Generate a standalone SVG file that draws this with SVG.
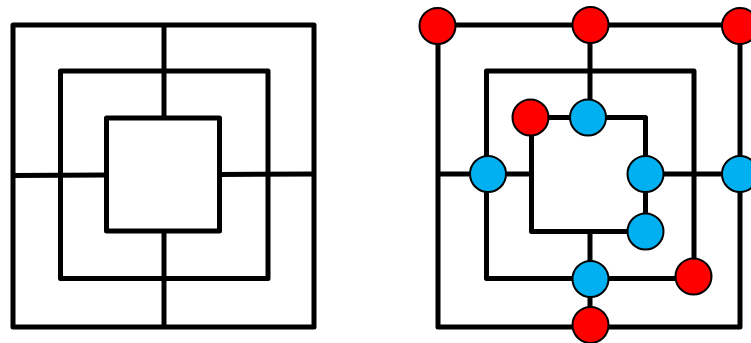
<svg xmlns="http://www.w3.org/2000/svg" width="751" height="343" viewBox="0 0 751 343">
<style>
.ln{fill:none;stroke:#000;stroke-width:5;stroke-linejoin:round;stroke-linecap:butt}
.red{fill:#FF0000;stroke:#000;stroke-width:2}
.blue{fill:#00B0F0;stroke:#000;stroke-width:2}
</style>
<rect width="751" height="343" fill="#fff"/>
<g id="empty-board">
<rect class="ln" x="13" y="25" width="301" height="302"/>
<rect class="ln" x="60.5" y="71" width="207.5" height="207.5"/>
<rect class="ln" x="106.5" y="118" width="113" height="113"/>
<line class="ln" x1="164" y1="25" x2="164" y2="118"/>
<line class="ln" x1="164" y1="231" x2="164" y2="327"/>
<line class="ln" x1="13" y1="175.5" x2="106.5" y2="175"/>
<line class="ln" x1="219.5" y1="174.5" x2="314" y2="174"/>
</g>
<g id="connectors">
<rect class="ln" x="438" y="25" width="302" height="302"/>
<rect class="ln" x="486.5" y="71" width="207.5" height="207.5"/>
<path class="ln" d="M531.5 117.5 H645.5 V231.5 H531.5 Z"/>
<line class="ln" x1="590" y1="25" x2="590" y2="117.5"/>
<line class="ln" x1="590" y1="231.5" x2="590" y2="327"/>
<line class="ln" x1="438" y1="174" x2="531.5" y2="174"/>
<line class="ln" x1="645.5" y1="174" x2="740" y2="174"/>
</g>
<g id="n-tl"><circle class="red" cx="437.5" cy="26" r="18"/></g>
<g id="n-tm"><circle class="red" cx="590.5" cy="25" r="18"/></g>
<g id="n-tr"><circle class="red" cx="740" cy="26" r="18"/></g>
<g id="n-il"><circle class="red" cx="530.5" cy="117.5" r="18"/></g>
<g id="n-it"><circle class="blue" cx="588" cy="117.5" r="18"/></g>
<g id="n-ir"><circle class="blue" cx="645.5" cy="174" r="18"/></g>
<g id="n-ib"><circle class="blue" cx="645.5" cy="231.5" r="18"/></g>
<g id="n-ml"><circle class="blue" cx="488" cy="174" r="18"/></g>
<g id="n-or"><circle class="blue" cx="740" cy="174" r="18"/></g>
<g id="n-mb"><circle class="blue" cx="590.5" cy="279" r="18"/></g>
<g id="n-mbr"><circle class="red" cx="693.5" cy="276.5" r="18"/></g>
<g id="n-ob"><circle class="red" cx="590.5" cy="325" r="18"/></g>
</svg>
